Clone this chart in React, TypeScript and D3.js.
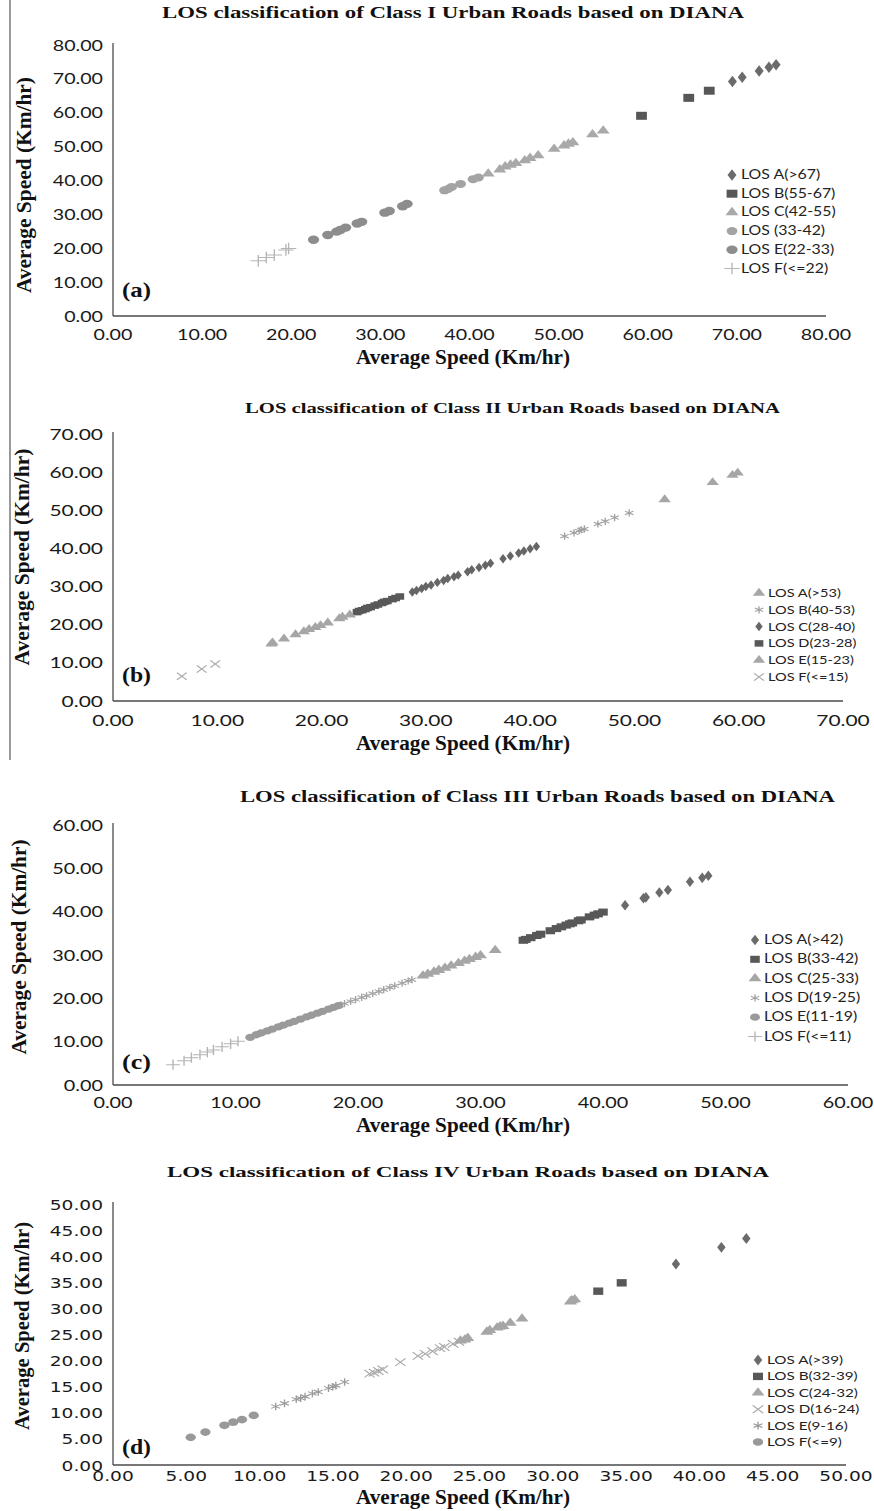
import React from "react";
import * as d3 from "d3";

// ---- Class I (a) ----
const c1A = [[69.5, 69.2], [70.6, 70.5], [72.5, 72.3], [73.6, 73.4], [74.4, 74.2]];
const c1B = [[59.3, 59.1], [64.6, 64.4], [66.9, 66.5]];
const c1C = [[42.1, 42.0], [43.4, 43.2], [44.0, 44.1], [44.6, 44.6], [45.2, 45.1], [46.2, 45.9], [46.8, 46.6], [47.7, 47.4], [49.5, 49.3], [50.6, 50.3], [51.1, 50.8], [51.6, 51.2], [53.8, 53.6], [55.0, 54.7]];
const c1D = [[37.2, 37.1], [37.6, 37.5], [38.0, 38.1], [39.0, 39.0], [40.4, 40.4], [41.0, 40.9]];
const c1E = [[22.5, 22.5], [24.1, 23.9], [25.1, 24.9], [25.5, 25.4], [26.1, 26.1], [27.4, 27.3], [27.9, 27.8], [30.5, 30.5], [31.0, 31.0], [32.5, 32.4], [33.0, 33.1]];
const c1F = [[16.3, 16.3], [17.2, 17.3], [18.1, 18.0], [19.4, 19.5], [19.7, 19.9]];
const c1Names = ["LOS A(>67)", "LOS B(55-67)", "LOS C(42-55)", "LOS (33-42)", "LOS E(22-33)", "LOS F(<=22)"];
const c1Ticks = [0, 10, 20, 30, 40, 50, 60, 70, 80];

// ---- Class II (b) ----
const c2A = [[52.9, 52.8], [57.5, 57.3], [59.4, 59.2], [59.9, 59.8]];
const c2B = [[43.3, 43.2], [44.2, 44.1], [44.7, 44.6], [44.9, 44.9], [45.2, 45.1], [46.5, 46.4], [47.2, 47.1], [48.1, 48.1], [49.5, 49.3]];
const c2C = [[28.7, 28.6], [29.1, 29.0], [29.6, 29.5], [30.0, 30.0], [30.5, 30.4], [31.1, 31.1], [31.7, 31.6], [32.1, 32.1], [32.7, 32.6], [33.1, 33.0], [34.0, 33.9], [34.4, 34.4], [35.1, 35.0], [35.7, 35.6], [36.2, 36.1], [37.4, 37.3], [38.1, 38.0], [38.9, 38.8], [39.4, 39.3], [40.0, 39.9], [40.6, 40.5]];
const c2D = [[23.4, 23.3], [23.6, 23.6], [23.9, 23.8], [24.2, 24.1], [24.4, 24.4], [24.7, 24.6], [25.1, 25.0], [25.4, 25.3], [25.8, 25.7], [26.0, 26.0], [26.3, 26.2], [26.8, 26.7], [27.1, 27.0], [27.5, 27.4]];
const c2E = [[15.2, 15.0], [15.3, 15.3], [16.4, 16.3], [17.5, 17.4], [18.3, 18.2], [18.8, 18.8], [19.4, 19.3], [19.9, 19.8], [20.6, 20.5], [21.7, 21.6], [22.0, 22.0], [22.7, 22.6]];
const c2F = [[6.6, 6.5], [8.5, 8.4], [9.8, 9.7]];
const c2Names = ["LOS A(>53)", "LOS B(40-53)", "LOS C(28-40)", "LOS D(23-28)", "LOS E(15-23)", "LOS F(<=15)"];
const c2Ticks = [0, 10, 20, 30, 40, 50, 60, 70];

// ---- Class III (c) ----
const c3A = [[41.8, 41.5], [43.3, 43.1], [43.5, 43.3], [44.6, 44.4], [45.3, 45.0], [47.1, 46.9], [48.1, 47.8], [48.6, 48.3]];
const c3B = [[33.5, 33.4], [33.7, 33.6], [34.1, 34.0], [34.6, 34.5], [34.9, 34.8], [35.7, 35.6], [36.2, 36.1], [36.6, 36.5], [37.0, 36.9], [37.3, 37.2], [37.5, 37.4], [38.0, 37.9], [38.2, 38.1], [38.9, 38.8], [39.3, 39.2], [39.6, 39.5], [40.0, 39.9]];
const c3C = [[25.3, 25.2], [25.7, 25.6], [26.2, 26.1], [26.6, 26.5], [27.1, 27.0], [27.6, 27.5], [28.2, 28.1], [28.7, 28.6], [29.1, 29.0], [29.6, 29.5], [30.0, 29.9], [31.2, 31.1]];
const c3D = [[18.5, 18.4], [18.9, 18.8], [19.4, 19.3], [19.8, 19.7], [20.3, 20.2], [20.7, 20.6], [21.2, 21.1], [21.7, 21.6], [22.1, 22.0], [22.6, 22.5], [23.0, 22.9], [23.6, 23.5], [24.1, 24.0], [24.4, 24.3]];
const c3E = [[11.2, 11.0], [11.7, 11.6], [12.1, 12.0], [12.6, 12.5], [13.0, 12.9], [13.5, 13.4], [13.9, 13.8], [14.4, 14.3], [14.8, 14.7], [15.3, 15.2], [15.8, 15.7], [16.2, 16.1], [16.7, 16.6], [17.1, 17.0], [17.6, 17.5], [18.0, 17.9], [18.4, 18.3]];
const c3F = [[4.9, 4.7], [5.8, 5.6], [6.4, 6.3], [7.1, 7.0], [7.7, 7.6], [8.2, 8.1], [8.9, 8.8], [9.6, 9.5], [10.2, 10.1]];
const c3Names = ["LOS A(>42)", "LOS B(33-42)", "LOS C(25-33)", "LOS D(19-25)", "LOS E(11-19)", "LOS F(<=11)"];
const c3Ticks = [0, 10, 20, 30, 40, 50, 60];

// ---- Class IV (d) ----
const c4A = [[38.4, 38.5], [41.5, 41.7], [43.2, 43.4]];
const c4B = [[33.1, 33.3], [34.7, 34.9]];
const c4C = [[23.7, 23.8], [24.0, 24.0], [24.2, 24.3], [25.5, 25.5], [25.7, 25.8], [26.2, 26.3], [26.4, 26.5], [26.6, 26.6], [27.1, 27.2], [27.9, 28.0], [31.2, 31.3], [31.3, 31.5], [31.5, 31.7]];
const c4D = [[17.5, 17.5], [17.8, 17.7], [18.1, 18.0], [18.4, 18.3], [19.6, 19.7], [20.8, 20.9], [21.3, 21.3], [21.8, 21.8], [22.3, 22.4], [22.6, 22.6], [23.2, 23.2], [23.6, 23.6]];
const c4E = [[11.1, 11.2], [11.7, 11.8], [12.5, 12.6], [12.8, 12.8], [13.1, 13.1], [13.6, 13.7], [14.0, 14.0], [14.7, 14.7], [15.0, 15.0], [15.2, 15.2], [15.8, 15.9]];
const c4F = [[5.3, 5.3], [6.3, 6.3], [7.6, 7.6], [8.2, 8.2], [8.8, 8.7], [9.6, 9.5]];
const c4Names = ["LOS A(>39)", "LOS B(32-39)", "LOS C(24-32)", "LOS D(16-24)", "LOS E(9-16)", "LOS F(<=9)"];
const c4Ticks = [0, 5, 10, 15, 20, 25, 30, 35, 40, 45, 50];

const AXIS_TITLE = "Average Speed (Km/hr)";

const DIA = d3.symbolDiamond, SQ = d3.symbolSquare, TRI = d3.symbolTriangle, CIR = d3.symbolCircle;
const PLUS = d3.symbolPlus, TIMES = d3.symbolTimes, AST = d3.symbolAsterisk;

const panels = [
  {
    title: "LOS classification of Class I Urban Roads based on DIANA", titleY: 18, titleX0: 162, titleX1: 744, titleSize: 17,
    max: 80, ticks: c1Ticks, x0: 113, x1: 826, yTop: 45, yBot: 316,
    tickFont: "Lato, sans-serif", tickSize: 16, sx: 1.23, xTickY: 340, xTitleY: 364, yTitleX: 31, yTitleC: 185, yTitleLen: 216,
    label: "(a)", labelY: 297,
    legX: 732, legY0: 175, legDy: 18.7, legSize: 12.5,
    series: [
      { data: c1A, sym: DIA, color: "#6b6b6b", size: 38, stroke: false },
      { data: c1B, sym: SQ, color: "#575757", size: 64, stroke: false },
      { data: c1C, sym: TRI, color: "#a9a9a9", size: 40, stroke: false },
      { data: c1D, sym: CIR, color: "#a3a3a3", size: 50, stroke: false },
      { data: c1E, sym: CIR, color: "#8d8d8d", size: 55, stroke: false },
      { data: c1F, sym: PLUS, color: "#b5b5b5", size: 45, stroke: true },
    ],
    names: c1Names,
  },
  {
    title: "LOS classification of Class II Urban Roads based on DIANA", titleY: 413, titleX0: 245, titleX1: 780, titleSize: 14,
    max: 70, ticks: c2Ticks, x0: 113, x1: 843, yTop: 434, yBot: 701,
    tickFont: "Lato, sans-serif", tickSize: 16, sx: 1.31, xTickY: 726, xTitleY: 750, yTitleX: 29, yTitleC: 557, yTitleLen: 217,
    label: "(b)", labelY: 682,
    legX: 759, legY0: 593, legDy: 16.8, legSize: 11.5,
    series: [
      { data: c2A, sym: TRI, color: "#a6a6a6", size: 36, stroke: false },
      { data: c2B, sym: AST, color: "#a0a0a0", size: 36, stroke: true },
      { data: c2C, sym: DIA, color: "#666666", size: 26, stroke: false },
      { data: c2D, sym: SQ, color: "#585858", size: 42, stroke: false },
      { data: c2E, sym: TRI, color: "#a6a6a6", size: 36, stroke: false },
      { data: c2F, sym: TIMES, color: "#ababab", size: 36, stroke: true },
    ],
    names: c2Names,
  },
  {
    title: "LOS classification of Class  III Urban Roads based on DIANA", titleY: 802, titleX0: 240, titleX1: 835, titleSize: 16,
    max: 60, ticks: c3Ticks, x0: 113, x1: 848, yTop: 825, yBot: 1085,
    tickFont: "Lato, sans-serif", tickSize: 16, sx: 1.24, xTickY: 1108, xTitleY: 1132, yTitleX: 26, yTitleC: 947, yTitleLen: 215,
    label: "(c)", labelY: 1069,
    legX: 755, legY0: 940, legDy: 19.3, legSize: 12.5,
    series: [
      { data: c3A, sym: DIA, color: "#6b6b6b", size: 32, stroke: false },
      { data: c3B, sym: SQ, color: "#585858", size: 50, stroke: false },
      { data: c3C, sym: TRI, color: "#a6a6a6", size: 40, stroke: false },
      { data: c3D, sym: AST, color: "#a3a3a3", size: 36, stroke: true },
      { data: c3E, sym: CIR, color: "#9a9a9a", size: 42, stroke: false },
      { data: c3F, sym: PLUS, color: "#b3b3b3", size: 36, stroke: true },
    ],
    names: c3Names,
  },
  {
    title: "LOS classification of Class IV Urban Roads based on DIANA", titleY: 1177, titleX0: 167, titleX1: 769, titleSize: 15,
    max: 50, ticks: c4Ticks, x0: 113, x1: 846, yTop: 1204, yBot: 1465,
    tickFont: "'DejaVu Sans', sans-serif", tickSize: 14, sx: 1.33, xTickY: 1481, xTitleY: 1504, yTitleX: 29, yTitleC: 1326, yTitleLen: 208,
    label: "(d)", labelY: 1454,
    legX: 758, legY0: 1360, legDy: 16.4, legSize: 12,
    series: [
      { data: c4A, sym: DIA, color: "#6b6b6b", size: 34, stroke: false },
      { data: c4B, sym: SQ, color: "#585858", size: 55, stroke: false },
      { data: c4C, sym: TRI, color: "#a6a6a6", size: 40, stroke: false },
      { data: c4D, sym: TIMES, color: "#a8a8a8", size: 40, stroke: true },
      { data: c4E, sym: AST, color: "#9a9a9a", size: 40, stroke: true },
      { data: c4F, sym: CIR, color: "#999999", size: 46, stroke: false },
    ],
    names: c4Names,
  },
];

const fmt = d3.format(".2f");
const MSX = 1.35; // the figure is stretched sideways, so are its markers

function Panel({ p }: { p: any }) {
  const x = d3.scaleLinear().domain([0, p.max]).range([p.x0, p.x1]);
  const y = d3.scaleLinear().domain([0, p.max]).range([p.yBot, p.yTop]);
  const serif = "'Liberation Serif', 'Times New Roman', serif";
  const legFont = "Lato, sans-serif";

  const marker = (s: any, cx: number, cy: number, key: any) => (
    <path
      key={key}
      d={d3.symbol(s.sym, s.size)() as string}
      transform={`translate(${cx},${cy}) scale(${MSX},1)`}
      fill={s.stroke ? "none" : s.color}
      stroke={s.stroke ? s.color : "none"}
      strokeWidth={s.stroke ? 1 : 0}
    />
  );

  return (
    <g>
      <text x={(p.titleX0 + p.titleX1) / 2} y={p.titleY} textAnchor="middle" fontFamily={serif} fontWeight="bold"
        fontSize={p.titleSize} textLength={p.titleX1 - p.titleX0} lengthAdjust="spacingAndGlyphs" fill="#111">
        {p.title}
      </text>

      {/* axes */}
      <line x1={p.x0} x2={p.x0} y1={p.yTop - 2} y2={p.yBot} stroke="#4a4a4a" strokeWidth={1.3} />
      <line x1={p.x0} x2={p.x1} y1={p.yBot} y2={p.yBot} stroke="#4a4a4a" strokeWidth={1.3} />

      {p.ticks.map((t: number) => (
        <text key={"y" + t} transform={`translate(103,${y(t) + 5.5}) scale(${p.sx},1)`} textAnchor="end"
          fontFamily={p.tickFont} fontSize={p.tickSize} fill="#1a1a1a">{fmt(t)}</text>
      ))}
      {p.ticks.map((t: number) => (
        <text key={"x" + t} transform={`translate(${x(t)},${p.xTickY}) scale(${p.sx},1)`} textAnchor="middle"
          fontFamily={p.tickFont} fontSize={p.tickSize} fill="#1a1a1a">{fmt(t)}</text>
      ))}

      <text x={463} y={p.xTitleY} textAnchor="middle" fontFamily={serif} fontWeight="bold" fontSize={20}
        textLength={214} lengthAdjust="spacingAndGlyphs" fill="#111">{AXIS_TITLE}</text>
      <text transform={`translate(${p.yTitleX},${p.yTitleC}) rotate(-90)`} textAnchor="middle" fontFamily={serif}
        fontWeight="bold" fontSize={20} textLength={p.yTitleLen} lengthAdjust="spacingAndGlyphs" fill="#111">{AXIS_TITLE}</text>

      <text x={122} y={p.labelY} fontFamily={serif} fontWeight="bold" fontSize={22} textLength={29}
        lengthAdjust="spacingAndGlyphs" fill="#111">{p.label}</text>

      {/* points */}
      {p.series.map((s: any, i: number) => (
        <g key={i}>{s.data.map((d: number[], j: number) => marker(s, x(d[0]), y(d[1]), j))}</g>
      ))}

      {/* legend */}
      {p.series.map((s: any, i: number) => {
        const cy = p.legY0 + i * p.legDy;
        return (
          <g key={"l" + i}>
            {marker(s, p.legX, cy, "m")}
            <text transform={`translate(${p.legX + 9},${cy + 4}) scale(1.27,1)`} fontFamily={legFont}
              fontSize={p.legSize} fill="#222">{p.names[i]}</text>
          </g>
        );
      })}
    </g>
  );
}

export default function App() {
  return (
    <svg width={874} height={1511} style={{ position: "absolute", left: 0, top: 0, background: "#fff" }}>
      <rect width={874} height={1511} fill="#fff" />
      <line x1={10} x2={10} y1={0} y2={760} stroke="#555" strokeWidth={1.2} />
      {panels.map((p, i) => <Panel key={i} p={p} />)}
    </svg>
  );
}
